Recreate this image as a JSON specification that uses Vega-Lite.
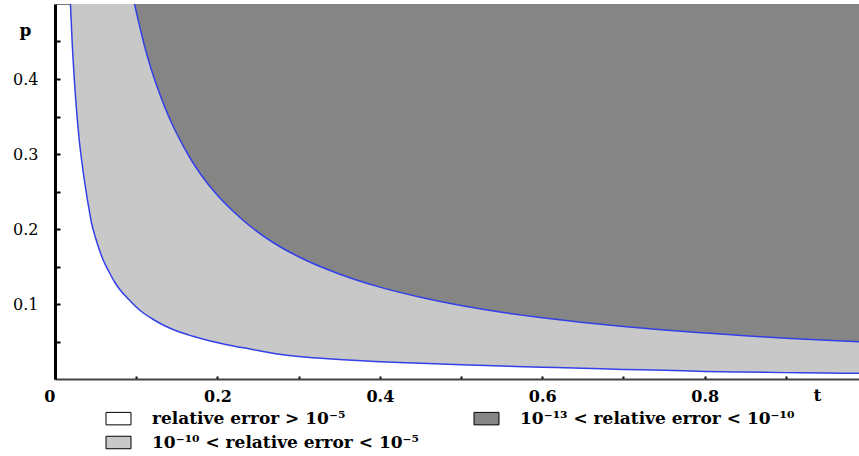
{
  "$schema": "https://vega.github.io/schema/vega-lite/v6.json",
  "width": 804,
  "height": 375,
  "autosize": {"type": "none"},
  "padding": {"left": 55, "top": 4, "right": 0, "bottom": 77},
  "background": "white",
  "config": {
    "view": {"stroke": "#777777", "strokeWidth": 1},
    "font": "DejaVu Serif"
  },
  "datasets": {
    "lower": [
      {"t": 0.017, "p": 0.56}, {"t": 0.019, "p": 0.5}, {"t": 0.021, "p": 0.452}, {"t": 0.024, "p": 0.396},
      {"t": 0.027, "p": 0.352}, {"t": 0.03, "p": 0.317}, {"t": 0.033, "p": 0.29}, {"t": 0.037, "p": 0.259},
      {"t": 0.041, "p": 0.232}, {"t": 0.045, "p": 0.208}, {"t": 0.05, "p": 0.188}, {"t": 0.055, "p": 0.171},
      {"t": 0.06, "p": 0.157}, {"t": 0.066, "p": 0.144}, {"t": 0.073, "p": 0.13}, {"t": 0.08, "p": 0.119},
      {"t": 0.09, "p": 0.107}, {"t": 0.1, "p": 0.096}, {"t": 0.11, "p": 0.087}, {"t": 0.12, "p": 0.08},
      {"t": 0.135, "p": 0.071}, {"t": 0.15, "p": 0.064}, {"t": 0.17, "p": 0.057}, {"t": 0.19, "p": 0.051},
      {"t": 0.21, "p": 0.046}, {"t": 0.24, "p": 0.04}, {"t": 0.27, "p": 0.034}, {"t": 0.3, "p": 0.03},
      {"t": 0.35, "p": 0.026}, {"t": 0.4, "p": 0.023}, {"t": 0.45, "p": 0.021}, {"t": 0.5, "p": 0.019},
      {"t": 0.55, "p": 0.0172}, {"t": 0.6, "p": 0.0157}, {"t": 0.65, "p": 0.0143}, {"t": 0.7, "p": 0.0128},
      {"t": 0.75, "p": 0.0118}, {"t": 0.8, "p": 0.0101}, {"t": 0.85, "p": 0.0093}, {"t": 0.9, "p": 0.0085},
      {"t": 0.95, "p": 0.0079}, {"t": 0.99, "p": 0.0076}
    ],
    "upper": [
      {"t": 0.095, "p": 0.516}, {"t": 0.098, "p": 0.5}, {"t": 0.105, "p": 0.467}, {"t": 0.11, "p": 0.445},
      {"t": 0.12, "p": 0.408}, {"t": 0.13, "p": 0.377}, {"t": 0.14, "p": 0.35}, {"t": 0.15, "p": 0.327},
      {"t": 0.165, "p": 0.297}, {"t": 0.18, "p": 0.272}, {"t": 0.2, "p": 0.245}, {"t": 0.22, "p": 0.223},
      {"t": 0.24, "p": 0.204}, {"t": 0.27, "p": 0.181}, {"t": 0.3, "p": 0.163}, {"t": 0.35, "p": 0.14},
      {"t": 0.4, "p": 0.1225}, {"t": 0.45, "p": 0.109}, {"t": 0.5, "p": 0.098}, {"t": 0.55, "p": 0.089},
      {"t": 0.6, "p": 0.0817}, {"t": 0.65, "p": 0.0754}, {"t": 0.7, "p": 0.07}, {"t": 0.75, "p": 0.0653},
      {"t": 0.8, "p": 0.0613}, {"t": 0.85, "p": 0.0576}, {"t": 0.9, "p": 0.0544}, {"t": 0.95, "p": 0.0516},
      {"t": 0.99, "p": 0.0495}
    ]
  },
  "layer": [
    {
      "data": {"name": "lower"},
      "mark": {"type": "area", "clip": true, "interpolate": "monotone"},
      "encoding": {
        "x": {
          "field": "t", "type": "quantitative",
          "scale": {"domain": [0, 0.99], "nice": false, "zero": false},
          "axis": {
            "title": "t", "titleFont": "DejaVu Serif", "titleFontWeight": "bold", "titleFontSize": 17,
            "titleX": 762, "titleY": 16, "titleBaseline": "middle", "titleAlign": "center", "titleColor": "black",
            "values": [0, 0.1, 0.2, 0.3, 0.4, 0.5, 0.6, 0.7, 0.8, 0.9],
            "labelExpr": "(round(datum.value*10) % 2 == 0) ? (datum.value == 0 ? '0' : format(datum.value, '.1f')) : ''",
            "labelFont": "DejaVu Serif", "labelFontWeight": "bold", "labelFontSize": 16, "labelColor": "black",
            "labelBaseline": "top", "labelPadding": 12,
            "labelAlign": {"condition": {"test": "datum.value == 0", "value": "right"}, "value": "center"},
            "tickSize": -3, "tickColor": "black", "tickWidth": 2,
            "domainColor": "#444444", "domainWidth": 2, "grid": false
          }
        },
        "y": {
          "field": "p", "type": "quantitative",
          "scale": {"domain": [0, 0.5], "nice": false, "zero": false},
          "axis": {
            "title": "p", "titleFont": "DejaVu Serif", "titleFontWeight": "bold", "titleFontSize": 17,
            "titleAngle": 0, "titleX": -30, "titleY": 26, "titleBaseline": "middle", "titleAlign": "center", "titleColor": "black",
            "values": [0.05, 0.1, 0.15, 0.2, 0.25, 0.3, 0.35, 0.4, 0.45],
            "labelExpr": "(round(datum.value*100) % 10 == 0) ? format(datum.value, '.1f') : ''",
            "labelFont": "DejaVu Serif", "labelFontSize": 16, "labelColor": "black",
            "labelPadding": 22,
            "tickSize": -5, "tickColor": "black", "tickWidth": 2,
            "domainColor": "black", "domainWidth": 3, "grid": false
          }
        },
        "y2": {"datum": 0.5},
        "fill": {
          "datum": "10⁻¹⁰ < relative error < 10⁻⁵", "type": "nominal",
          "scale": {
            "domain": ["relative error > 10⁻⁵", "10⁻¹³ < relative error < 10⁻¹⁰", "10⁻¹⁰ < relative error < 10⁻⁵"],
            "range": ["#ffffff", "#858585", "#c8c8c8"]
          },
          "legend": {
            "title": null, "orient": "none", "legendX": 55, "legendY": 406,
            "direction": "horizontal", "columns": 2, "columnPadding": 53, "rowPadding": 6,
            "padding": 0,
            "symbolType": "M-2,-1H2V1H-2Z", "symbolSize": 156, "symbolStrokeColor": "black", "symbolStrokeWidth": 1,
            "symbolOpacity": 1,
            "labelFont": "DejaVu Serif", "labelFontWeight": "bold", "labelFontSize": 17, "labelColor": "black",
            "labelOffset": 25, "labelLimit": 400
          }
        }
      }
    },
    {
      "data": {"name": "upper"},
      "mark": {"type": "area", "clip": true, "interpolate": "monotone"},
      "encoding": {
        "x": {"field": "t", "type": "quantitative"},
        "y": {"field": "p", "type": "quantitative"},
        "y2": {"datum": 0.5},
        "fill": {"datum": "10⁻¹³ < relative error < 10⁻¹⁰", "type": "nominal"}
      }
    },
    {
      "data": {"name": "lower"},
      "mark": {"type": "line", "clip": true, "interpolate": "monotone", "color": "#3340e8", "strokeWidth": 1.5},
      "encoding": {
        "x": {"field": "t", "type": "quantitative"},
        "y": {"field": "p", "type": "quantitative"}
      }
    },
    {
      "data": {"name": "upper"},
      "mark": {"type": "line", "clip": true, "interpolate": "monotone", "color": "#3340e8", "strokeWidth": 1.5},
      "encoding": {
        "x": {"field": "t", "type": "quantitative"},
        "y": {"field": "p", "type": "quantitative"}
      }
    }
  ]
}
